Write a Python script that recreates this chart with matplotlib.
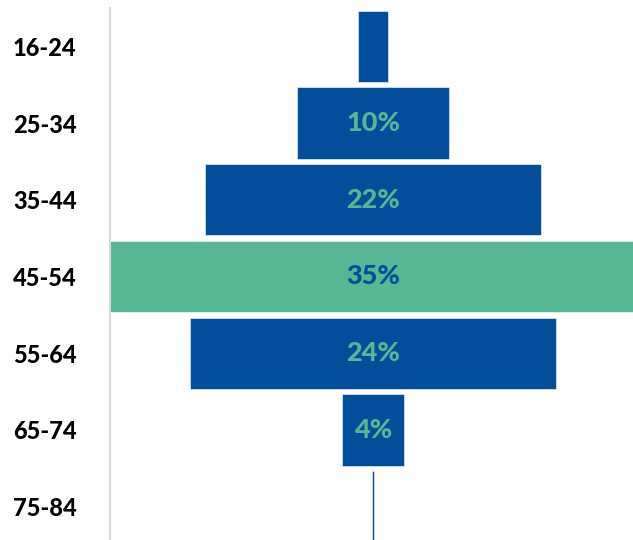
import matplotlib.pyplot as plt

plt.rcParams['font.family'] = ['Lato', 'DejaVu Sans']

age_groups = ["16-24", "25-34", "35-44", "45-54", "55-64", "65-74", "75-84"]
shares = [2, 10, 22, 35, 24, 4, 0.15]
labels = ["", "10%", "22%", "35%", "24%", "4%", ""]
highlight = "45-54"

BLUE = "#034E9B"
GREEN = "#55B794"

fig = plt.figure(figsize=(6.33, 5.4), dpi=100)
# plot area runs a little past the right and bottom edges of the figure
ax = fig.add_axes([110 / 633, -5 / 540, 526 / 633, 537 / 540])

ypos = list(range(len(age_groups)))
colors = [GREEN if g == highlight else BLUE for g in age_groups]
lefts = [-v / 2 for v in shares]
ax.barh(ypos, shares, left=lefts, height=0.93, color=colors,
        edgecolor="white", linewidth=0.4)

for y, g, lab in zip(ypos, age_groups, labels):
    if lab:
        ax.text(0, y, lab, ha="center", va="center", fontsize=19.5,
                fontweight="black", color=BLUE if g == highlight else GREEN)

ax.set_xlim(-17.2, 17.2)
ax.set_ylim(len(age_groups) - 0.5, -0.5)
ax.set_yticks(ypos)
ax.set_yticklabels(age_groups, fontsize=17, fontweight="black")
ax.tick_params(axis="y", length=0, pad=24)
ax.set_xticks([])
for s in ["top", "right", "bottom"]:
    ax.spines[s].set_visible(False)
ax.spines["left"].set_color("#D9D9D9")
ax.spines["left"].set_linewidth(1.5)

fig.savefig("out.png", dpi=100)
